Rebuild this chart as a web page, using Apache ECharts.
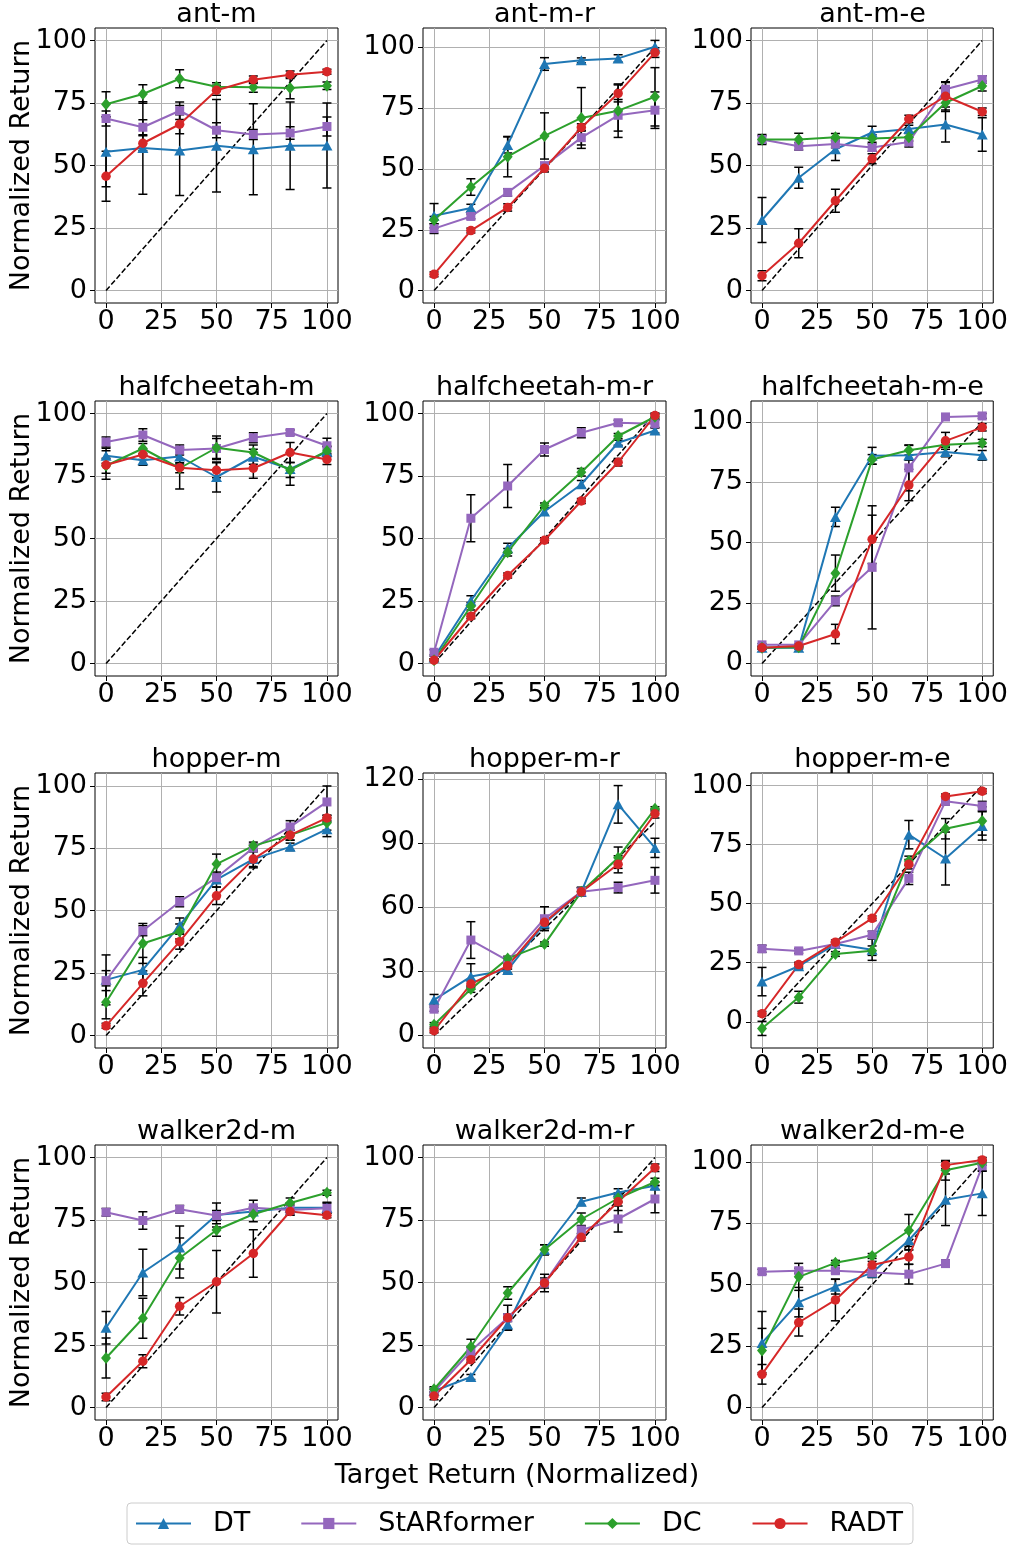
<!DOCTYPE html>
<html>
<head>
<meta charset="utf-8">
<title>Normalized return vs target return</title>
<script src="https://cdn.jsdelivr.net/npm/echarts@6.0.0/dist/echarts.min.js"></script>
<style>
  html, body { margin: 0; padding: 0; background: #fff; }
  #chart { width: 1011px; height: 1548px; }
</style>
</head>
<body>
<div id="chart"></div>
<script>
// x values shared by every panel
const targetReturn = [0, 16.67, 33.33, 50, 66.67, 83.33, 100];

const panelNames = [
  'ant-m', 'ant-m-r', 'ant-m-e',
  'halfcheetah-m', 'halfcheetah-m-r', 'halfcheetah-m-e',
  'hopper-m', 'hopper-m-r', 'hopper-m-e',
  'walker2d-m', 'walker2d-m-r', 'walker2d-m-e'
];

const xTicks = [0, 25, 50, 75, 100];
const yTicks = [0, 25, 50, 75, 100];
const yTicksWide = [0, 30, 60, 90, 120]; // hopper-m-r only

// axis limits of each panel
const xMin = -5, xMax = 105;
const yMin = [-5, -5.1, -5, -5, -5, -5.2, -5, -5.9, -11.1, -5, -5, -5.1];
const yMax = [105, 108, 105, 105, 105, 108.7, 105.2, 123, 105.3, 105, 105, 106.9];

// mean normalized return, one row per panel
const dtMean = [
  [55.5, 57.0, 56.0, 57.9, 56.5, 57.9, 58.0],
  [30.8, 34.0, 59.9, 93.2, 94.7, 95.5, 100.3],
  [28.2, 45.1, 56.5, 63.2, 64.6, 66.4, 62.4],
  [83.1, 81.3, 82.8, 74.6, 82.7, 77.8, 84.7],
  [2.4, 25.1, 46.1, 60.8, 71.7, 88.3, 93.2],
  [6.5, 6.5, 60.7, 86.0, 86.2, 87.6, 86.2],
  [22.3, 26.3, 44.1, 62.5, 70.7, 75.6, 82.7],
  [16.7, 27.6, 30.7, 52.5, 67.3, 108.3, 87.9],
  [17.0, 23.5, 32.9, 30.5, 79.2, 69.1, 82.9],
  [31.9, 54.0, 64.0, 77.0, 78.4, 79.9, 79.9],
  [6.6, 12.2, 33.2, 63.1, 82.3, 86.0, 88.7],
  [26.3, 42.9, 49.2, 54.9, 68.1, 84.6, 87.2]
];
const dtErr = [
  [14, 18.5, 18, 18.5, 18.2, 17.5, 17],
  [5, 1.5, 3.3, 2.6, 1, 1.5, 2.6],
  [9, 4.2, 4.5, 2.5, 1.5, 7, 6.7],
  [3, 2, 3, 6, 3, 6.5, 2],
  [0.5, 2, 2, 1.5, 1.5, 1, 1],
  [0.5, 0.5, 4, 3.5, 2, 2, 2],
  [10, 5, 3, 3, 3, 1.5, 3],
  [2.5, 6, 1.5, 2, 2, 8.8, 4.5],
  [6, 1, 1, 4.5, 6, 11.2, 6],
  [6.5, 9.3, 8.6, 4.8, 1.5, 2, 2.2],
  [1.5, 1, 2, 2, 1.5, 1.5, 1.5],
  [12.8, 6, 3, 2, 4, 10.5, 9]
];

const starMean = [
  [68.8, 65.3, 71.9, 64.1, 62.4, 63.0, 65.6],
  [25.5, 30.5, 40.4, 51.4, 62.9, 72.1, 74.2],
  [60.4, 57.7, 58.6, 57.2, 59.4, 80.5, 84.4],
  [88.6, 91.4, 85.4, 86.0, 90.3, 92.4, 87.1],
  [4.5, 58.1, 71.0, 85.6, 92.3, 96.3, 95.9],
  [7.7, 7.7, 25.9, 39.8, 81.0, 102.1, 102.5],
  [22.0, 42.0, 53.6, 63.3, 75.2, 83.6, 93.6],
  [12.3, 44.7, 35.0, 54.7, 67.3, 69.3, 72.7],
  [30.9, 30.0, 32.9, 36.8, 60.7, 93.3, 91.3],
  [78.1, 74.8, 79.3, 76.8, 79.9, 79.0, 79.7],
  [6.4, 22.6, 35.9, 49.8, 71.0, 75.4, 83.4],
  [55.3, 55.7, 55.7, 55.0, 54.3, 58.6, 98.4]
];
const starErr = [
  [3, 3, 3.5, 3, 2, 2.5, 3.8],
  [2, 1, 1.5, 1, 3, 6.5, 7.5],
  [2, 1.5, 1.5, 1.5, 2, 3, 1.5],
  [2, 2.5, 2, 4, 2, 1, 3],
  [1, 9.4, 8.6, 2.6, 2, 1, 1.5],
  [0.5, 0.5, 2, 25.5, 9.5, 1, 1],
  [4, 2, 2, 1.5, 1.5, 2.5, 6.4],
  [1, 8.6, 1.5, 5.6, 2, 2.5, 6],
  [1.5, 1, 1, 1.5, 2.6, 1.5, 2],
  [1.5, 3.5, 1.5, 2, 3, 2, 2],
  [1, 1.5, 5, 3.5, 1.5, 5.2, 5.5],
  [1, 1, 1, 1, 4, 1.5, 2]
];

const dcMean = [
  [74.5, 78.6, 84.7, 81.5, 81.3, 81.0, 81.9],
  [29.0, 42.6, 55.1, 63.6, 71.0, 74.0, 79.7],
  [60.4, 60.4, 61.3, 60.8, 61.3, 75.1, 81.8],
  [79.1, 86.0, 78.1, 86.3, 84.4, 77.4, 85.0],
  [1.3, 22.9, 44.5, 63.2, 76.5, 91.0, 98.7],
  [6.5, 6.7, 37.4, 84.5, 88.3, 90.6, 91.3],
  [13.3, 36.9, 41.7, 68.7, 76.0, 80.3, 85.3],
  [5.0, 21.7, 36.1, 42.8, 67.3, 83.3, 106.2],
  [-2.8, 10.4, 28.7, 30.1, 68.1, 81.7, 85.0],
  [19.8, 35.7, 59.8, 71.0, 77.3, 81.8, 85.9],
  [7.3, 24.3, 45.8, 63.1, 75.3, 83.7, 90.2],
  [23.2, 53.2, 58.9, 61.7, 72.1, 96.6, 99.7]
];
const dcErr = [
  [5, 3.7, 3.6, 1.6, 2, 4.3, 1.5],
  [1.5, 3.4, 8.3, 9.5, 12.5, 11, 12],
  [1.5, 2.5, 1.5, 1.5, 1.5, 3.5, 2],
  [3, 2, 8.3, 4.7, 3, 3, 2],
  [0.5, 1.5, 1.5, 1, 1.5, 1, 1],
  [0.5, 0.5, 7.5, 2, 2, 1, 1.5],
  [6.6, 8, 3, 4, 1.5, 2, 3],
  [1, 1.5, 1, 1, 2, 5, 1],
  [3, 2.5, 1, 2, 2, 4.3, 6],
  [8, 8, 8, 2.5, 3, 2, 1],
  [1, 3, 2.5, 2, 2.5, 1.5, 1.5],
  [9, 5.5, 1, 1, 6.5, 4, 1]
];

const radtMean = [
  [45.7, 58.9, 66.5, 80.1, 84.3, 86.3, 87.5],
  [6.7, 24.7, 34.2, 50.3, 67.1, 81.1, 97.9],
  [5.9, 18.9, 35.9, 52.7, 68.6, 77.7, 71.5],
  [79.4, 83.6, 78.3, 77.3, 78.1, 84.4, 81.6],
  [1.3, 18.9, 35.2, 49.3, 65.0, 80.5, 99.2],
  [6.5, 7.2, 12.2, 51.4, 73.9, 92.2, 97.8],
  [3.9, 20.9, 37.6, 56.0, 70.7, 80.3, 87.2],
  [2.2, 24.1, 32.6, 53.0, 67.3, 80.2, 103.9],
  [3.4, 24.2, 33.7, 43.8, 66.7, 95.4, 97.6],
  [4.2, 18.5, 40.5, 50.3, 61.6, 78.4, 76.9],
  [4.6, 19.1, 35.9, 49.8, 68.1, 82.3, 95.9],
  [13.5, 34.6, 43.8, 58.0, 61.3, 98.7, 100.8]
];
const radtErr = [
  [10, 3, 3.8, 2, 1.5, 1.5, 1],
  [1, 1, 1.5, 1.5, 1.5, 3.5, 2],
  [2, 5.8, 4.6, 2, 1.5, 5.5, 1.5],
  [5.7, 2, 2, 3, 4, 4, 2],
  [0.5, 1, 1, 1, 1, 1.5, 1],
  [0.5, 0.5, 4, 10, 6.5, 3.5, 1.5],
  [1, 5, 3, 3.5, 3.5, 2, 1],
  [1, 1.5, 1.5, 3, 2, 4, 2],
  [1, 1, 1, 1, 2, 1, 1],
  [1.5, 2.6, 3.5, 12.5, 9.5, 1.5, 1],
  [1.5, 1, 1.5, 2, 1.5, 3.5, 1.5],
  [4, 5.5, 8.5, 1.5, 3, 1.5, 1]
];

const methods = [
  { name: 'DT', color: '#1f77b4', symbol: 'triangle', size: [11, 10], mean: dtMean, err: dtErr },
  { name: 'StARformer', color: '#9467bd', symbol: 'rect', size: 9, mean: starMean, err: starErr },
  { name: 'DC', color: '#2ca02c', symbol: 'diamond', size: [10, 12], mean: dcMean, err: dcErr },
  { name: 'RADT', color: '#d62728', symbol: 'circle', size: 9.5, mean: radtMean, err: radtErr }
];

const FONT = 'DejaVu Sans';
const colLeft = [95, 423, 751];
const rowTop = [28, 401, 773, 1145];
const plotW = 243, plotH = 275;

function errorBar(params, api) {
  const x = api.value(0), y = api.value(1), e = api.value(2);
  const lo = api.coord([x, y - e]);
  const hi = api.coord([x, y + e]);
  const cap = 4.5;
  const style = { stroke: '#000', lineWidth: 1.5 };
  return {
    type: 'group',
    children: [
      { type: 'line', shape: { x1: lo[0], y1: lo[1], x2: hi[0], y2: hi[1] }, style: style },
      { type: 'line', shape: { x1: lo[0] - cap, y1: lo[1], x2: lo[0] + cap, y2: lo[1] }, style: style },
      { type: 'line', shape: { x1: hi[0] - cap, y1: hi[1], x2: hi[0] + cap, y2: hi[1] }, style: style }
    ]
  };
}

const grids = [], xAxes = [], yAxes = [], series = [], graphics = [];

panelNames.forEach(function (name, i) {
  const col = i % 3, row = Math.floor(i / 3);
  const left = colLeft[col], top = rowTop[row];
  const ticks = name === 'hopper-m-r' ? yTicksWide : yTicks;

  grids.push({
    left: left, top: top, width: plotW, height: plotH,
    show: true, borderColor: '#000', borderWidth: 1, backgroundColor: 'transparent'
  });

  xAxes.push({
    type: 'value', gridIndex: i, min: xMin, max: xMax,
    axisLine: { show: false, onZero: false },
    axisTick: { show: true, length: 5, lineStyle: { color: '#000' }, customValues: xTicks },
    axisLabel: { customValues: xTicks, color: '#000', fontFamily: FONT, fontSize: 27, margin: 5 },
    splitLine: { show: true, lineStyle: { color: '#b0b0b0', width: 1 } }
  });

  yAxes.push({
    type: 'value', gridIndex: i, min: yMin[i], max: yMax[i],
    axisLine: { show: false, onZero: false },
    axisTick: { show: true, length: 5, lineStyle: { color: '#000' }, customValues: ticks },
    axisLabel: { customValues: ticks, color: '#000', fontFamily: FONT, fontSize: 27, margin: 8 },
    splitLine: { show: true, lineStyle: { color: '#b0b0b0', width: 1 } }
  });

  // panel title
  graphics.push({
    type: 'text', x: left + plotW / 2, y: top - 13,
    style: { text: name, fill: '#000', font: '27px "' + FONT + '"', textAlign: 'center', textVerticalAlign: 'middle' }
  });

  // y = x reference
  series.push({
    type: 'line', name: 'ideal', xAxisIndex: i, yAxisIndex: i,
    data: [[0, 0], [100, 100]], symbol: 'none', silent: true, z: 2,
    lineStyle: { color: '#000', width: 1.5, type: [5.5, 2.4] }
  });

  methods.forEach(function (m) {
    series.push({
      type: 'custom', name: m.name + ' err', xAxisIndex: i, yAxisIndex: i, z: 2,
      renderItem: errorBar, encode: { x: 0, y: 1 },
      data: targetReturn.map(function (t, k) { return [t, m.mean[i][k], m.err[i][k]]; })
    });
  });

  methods.forEach(function (m) {
    series.push({
      type: 'line', name: m.name, xAxisIndex: i, yAxisIndex: i, z: 3,
      data: targetReturn.map(function (t, k) { return [t, m.mean[i][k]]; }),
      symbol: m.symbol, symbolSize: m.size, showSymbol: true,
      itemStyle: { color: m.color },
      lineStyle: { color: m.color, width: 2 }
    });
  });
});

// y labels on the left column
rowTop.forEach(function (top) {
  graphics.push({
    type: 'text', x: 22, y: top + plotH / 2, rotation: Math.PI / 2,
    style: { text: 'Normalized Return', fill: '#000', font: '27px "' + FONT + '"', textAlign: 'center', textVerticalAlign: 'middle' }
  });
});

graphics.push({
  type: 'text', x: 517, y: 1476,
  style: { text: 'Target Return (Normalized)', fill: '#000', font: '27px "' + FONT + '"', textAlign: 'center', textVerticalAlign: 'middle' }
});

const chart = echarts.init(document.getElementById('chart'), null, { renderer: 'canvas' });
chart.setOption({
  animation: false,
  backgroundColor: '#fff',
  grid: grids,
  xAxis: xAxes,
  yAxis: yAxes,
  series: series,
  graphic: graphics,
  legend: {
    data: methods.map(function (m) { return m.name; }),
    left: 127, top: 1503,
    padding: [7, 10, 7, 8],
    itemGap: 50, itemWidth: 55, itemHeight: 14,
    borderColor: '#cccccc', borderWidth: 1, borderRadius: 4,
    backgroundColor: 'rgba(255,255,255,0.8)',
    textStyle: { fontFamily: FONT, fontSize: 27, color: '#000', padding: [0, 0, 0, 17] }
  }
});
</script>
</body>
</html>
